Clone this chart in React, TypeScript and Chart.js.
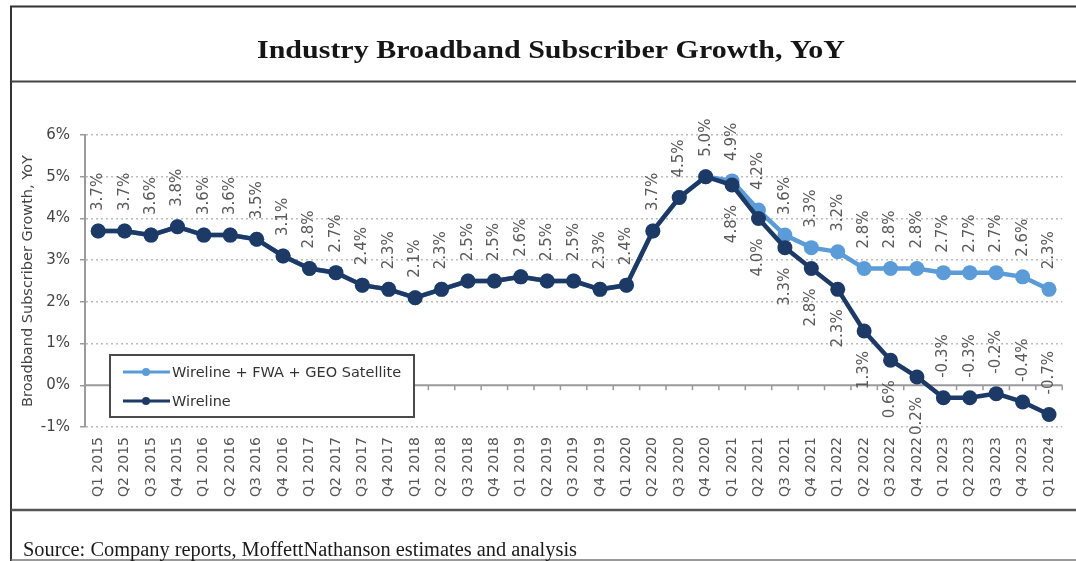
import React, { useEffect, useRef } from 'react';
import { Chart, registerables } from 'chart.js';

Chart.register(...registerables);

const quarters = [
  'Q1 2015', 'Q2 2015', 'Q3 2015', 'Q4 2015',
  'Q1 2016', 'Q2 2016', 'Q3 2016', 'Q4 2016',
  'Q1 2017', 'Q2 2017', 'Q3 2017', 'Q4 2017',
  'Q1 2018', 'Q2 2018', 'Q3 2018', 'Q4 2018',
  'Q1 2019', 'Q2 2019', 'Q3 2019', 'Q4 2019',
  'Q1 2020', 'Q2 2020', 'Q3 2020', 'Q4 2020',
  'Q1 2021', 'Q2 2021', 'Q3 2021', 'Q4 2021',
  'Q1 2022', 'Q2 2022', 'Q3 2022', 'Q4 2022',
  'Q1 2023', 'Q2 2023', 'Q3 2023', 'Q4 2023',
  'Q1 2024',
];

// Wireline + FWA + GEO Satellite, YoY %
const totalGrowth = [
  3.7, 3.7, 3.6, 3.8,
  3.6, 3.6, 3.5, 3.1,
  2.8, 2.7, 2.4, 2.3,
  2.1, 2.3, 2.5, 2.5,
  2.6, 2.5, 2.5, 2.3,
  2.4, 3.7, 4.5, 5.0,
  4.9, 4.2, 3.6, 3.3,
  3.2, 2.8, 2.8, 2.8,
  2.7, 2.7, 2.7, 2.6,
  2.3,
];

// Wireline only, YoY %
const wirelineGrowth = [
  3.7, 3.7, 3.6, 3.8,
  3.6, 3.6, 3.5, 3.1,
  2.8, 2.7, 2.4, 2.3,
  2.1, 2.3, 2.5, 2.5,
  2.6, 2.5, 2.5, 2.3,
  2.4, 3.7, 4.5, 5.0,
  4.8, 4.0, 3.3, 2.8,
  2.3, 1.3, 0.6, 0.2,
  -0.3, -0.3, -0.2, -0.4,
  -0.7,
];

const seriesNames = ['Wireline + FWA + GEO Satellite', 'Wireline'];
const seriesColors = ['#5b9bd8', '#1d3a66'];

const chartTitle = 'Industry Broadband Subscriber Growth, YoY';
const yAxisTitle = 'Broadband Subscriber Growth, YoY';
const sourceNote = 'Source: Company reports, MoffettNathanson estimates and analysis';

const Y_MIN = -1;
const Y_MAX = 6;

const W = 1076;
const H = 561;

const SANS = "'DejaVu Sans', 'Liberation Sans', sans-serif";
const SERIF = "'Liberation Serif', 'DejaVu Serif', serif";

function drawFittedText(ctx: CanvasRenderingContext2D, text: string, font: string, x: number, y: number, targetWidth: number, align: 'left' | 'center') {
  ctx.save();
  ctx.font = font;
  const w = ctx.measureText(text).width;
  const k = targetWidth / w;
  ctx.textBaseline = 'alphabetic';
  ctx.textAlign = 'left';
  const startX = align === 'center' ? x - targetWidth / 2 : x;
  ctx.translate(startX, y);
  ctx.scale(k, 1);
  ctx.fillText(text, 0, 0);
  ctx.restore();
}

const framePlugin = {
  id: 'frame',
  beforeDraw(chart: any) {
    const ctx = chart.ctx as CanvasRenderingContext2D;
    ctx.save();
    ctx.fillStyle = '#ffffff';
    ctx.fillRect(0, 0, W, H);
    ctx.restore();
  },
  afterDraw(chart: any) {
    const ctx = chart.ctx as CanvasRenderingContext2D;
    ctx.save();
    ctx.strokeStyle = '#333333';
    ctx.lineWidth = 2;
    ctx.beginPath();
    ctx.moveTo(10, 6.5);
    ctx.lineTo(W, 6.5);
    ctx.moveTo(11, 6);
    ctx.lineTo(11, H);
    ctx.stroke();
    ctx.strokeStyle = '#444444';
    ctx.beginPath();
    ctx.moveTo(11, 81.5);
    ctx.lineTo(W, 81.5);
    ctx.stroke();
    ctx.strokeStyle = '#555555';
    ctx.lineWidth = 2.5;
    ctx.beginPath();
    ctx.moveTo(11, 510);
    ctx.lineTo(W, 510);
    ctx.stroke();
    ctx.strokeStyle = '#777777';
    ctx.lineWidth = 1.5;
    ctx.beginPath();
    ctx.moveTo(11, 560);
    ctx.lineTo(W, 560);
    ctx.stroke();

    ctx.fillStyle = '#151515';
    drawFittedText(ctx, chartTitle, `bold 26px ${SERIF}`, 551, 58, 588, 'center');
    ctx.fillStyle = '#1a1a1a';
    drawFittedText(ctx, sourceNote, `20px ${SERIF}`, 23, 556, 554, 'left');
    ctx.restore();
  },
};

const zeroLinePlugin = {
  id: 'zeroLine',
  beforeDatasetsDraw(chart: any) {
    const ctx = chart.ctx as CanvasRenderingContext2D;
    const area = chart.chartArea;
    const y0 = chart.scales.y.getPixelForValue(0);
    const n = chart.data.labels.length;
    const step = (area.right - area.left) / n;
    ctx.save();
    ctx.strokeStyle = '#9a9a9a';
    ctx.lineWidth = 2;
    ctx.beginPath();
    ctx.moveTo(area.left, y0);
    ctx.lineTo(area.right, y0);
    ctx.stroke();
    ctx.lineWidth = 1.5;
    ctx.beginPath();
    for (let k = 1; k <= n; k++) {
      const x = area.left + k * step;
      ctx.moveTo(x, y0);
      ctx.lineTo(x, y0 + 5);
    }
    ctx.stroke();
    ctx.restore();
  },
};

const valueLabelPlugin = {
  id: 'valueLabels',
  afterDatasetsDraw(chart: any) {
    const ctx = chart.ctx as CanvasRenderingContext2D;
    const totalMeta = chart.getDatasetMeta(0);
    const wireMeta = chart.getDatasetMeta(1);
    const total = chart.data.datasets[0].data as number[];
    const wire = chart.data.datasets[1].data as number[];
    const gap = 20;
    ctx.save();
    ctx.font = `15px ${SANS}`;
    ctx.fillStyle = '#5a5a5a';
    ctx.textBaseline = 'middle';
    const put = (x: number, y: number, text: string, above: boolean) => {
      ctx.save();
      ctx.translate(x, above ? y - gap : y + gap);
      ctx.rotate(-Math.PI / 2);
      ctx.textAlign = above ? 'left' : 'right';
      ctx.fillText(text, 0, 0);
      ctx.restore();
    };
    for (let i = 0; i < total.length; i++) {
      const p = totalMeta.data[i];
      put(p.x, p.y, total[i].toFixed(1) + '%', true);
    }
    for (let i = 0; i < wire.length; i++) {
      if (wire[i] === total[i]) continue;
      const p = wireMeta.data[i];
      put(p.x, p.y, wire[i].toFixed(1) + '%', wire[i] < 0);
    }
    ctx.restore();
  },
};

const legendPlugin = {
  id: 'boxLegend',
  afterDraw(chart: any) {
    const ctx = chart.ctx as CanvasRenderingContext2D;
    const x0 = 110;
    const y0 = 355;
    const bw = 304;
    const bh = 62;
    ctx.save();
    ctx.fillStyle = '#ffffff';
    ctx.fillRect(x0, y0, bw, bh);
    ctx.strokeStyle = '#4a4a4a';
    ctx.lineWidth = 2;
    ctx.strokeRect(x0, y0, bw, bh);
    ctx.font = `14.5px ${SANS}`;
    ctx.textBaseline = 'middle';
    ctx.textAlign = 'left';
    chart.data.datasets.forEach((ds: any, i: number) => {
      const cy = y0 + 17 + i * 29;
      ctx.strokeStyle = ds.borderColor;
      ctx.lineWidth = 3;
      ctx.beginPath();
      ctx.moveTo(123, cy);
      ctx.lineTo(170, cy);
      ctx.stroke();
      ctx.fillStyle = ds.borderColor;
      ctx.beginPath();
      ctx.arc(146, cy, 4, 0, Math.PI * 2);
      ctx.fill();
      ctx.fillStyle = '#333333';
      ctx.fillText(ds.label, 172, cy + 1);
    });
    ctx.restore();
  },
};

export default function App() {
  const canvasRef = useRef<HTMLCanvasElement | null>(null);

  useEffect(() => {
    if (!canvasRef.current) return;
    const chart = new Chart(canvasRef.current, {
      type: 'line',
      data: {
        labels: quarters,
        datasets: [
          {
            label: seriesNames[0],
            data: totalGrowth,
            borderColor: seriesColors[0],
            backgroundColor: seriesColors[0],
            pointBackgroundColor: seriesColors[0],
            pointBorderColor: seriesColors[0],
            borderWidth: 4.5,
            pointRadius: 7.5,
            pointBorderWidth: 0,
            tension: 0,
            order: 1,
          },
          {
            label: seriesNames[1],
            data: wirelineGrowth,
            borderColor: seriesColors[1],
            backgroundColor: seriesColors[1],
            pointBackgroundColor: seriesColors[1],
            pointBorderColor: seriesColors[1],
            borderWidth: 4.5,
            pointRadius: 7.5,
            pointBorderWidth: 0,
            tension: 0,
            order: 0,
          },
        ],
      },
      options: {
        responsive: false,
        animation: false,
        devicePixelRatio: 1,
        layout: { padding: { top: 135, right: 13, bottom: 0, left: 0 } },
        plugins: {
          legend: { display: false },
          title: { display: false },
          tooltip: { enabled: false },
        },
        scales: {
          x: {
            type: 'category',
            offset: true,
            grid: { display: false, drawTicks: false },
            border: { display: false },
            ticks: {
              autoSkip: false,
              maxRotation: 90,
              minRotation: 90,
              padding: 10,
              color: '#555555',
              font: { family: SANS, size: 14 },
            },
            afterFit: (s: any) => {
              s.height = 134;
            },
          },
          y: {
            min: Y_MIN,
            max: Y_MAX,
            ticks: {
              stepSize: 1,
              padding: 10,
              color: '#444444',
              font: { family: SANS, size: 15 },
              callback: (v: any) => `${v}%`,
            },
            grid: {
              color: (c: any) => (c.tick && c.tick.value === 0 ? 'rgba(0,0,0,0)' : '#bcbcbc'),
              lineWidth: 1.5,
              tickLength: 5,
              tickColor: '#9a9a9a',
              tickWidth: 1.5,
            },
            border: { display: true, color: '#9a9a9a', width: 2, dash: [2, 3] },
            title: {
              display: true,
              text: yAxisTitle,
              color: '#444444',
              font: { family: SANS, size: 14.5 },
              padding: { top: 20, bottom: 0 },
            },
            afterFit: (s: any) => {
              s.width = 85;
            },
          },
        },
      },
      plugins: [framePlugin, zeroLinePlugin, valueLabelPlugin, legendPlugin],
    });
    return () => chart.destroy();
  }, []);

  return (
    <div style={{ position: 'absolute', left: 0, top: 0, width: W, height: H }}>
      <canvas ref={canvasRef} width={W} height={H} style={{ display: 'block' }} />
    </div>
  );
}
